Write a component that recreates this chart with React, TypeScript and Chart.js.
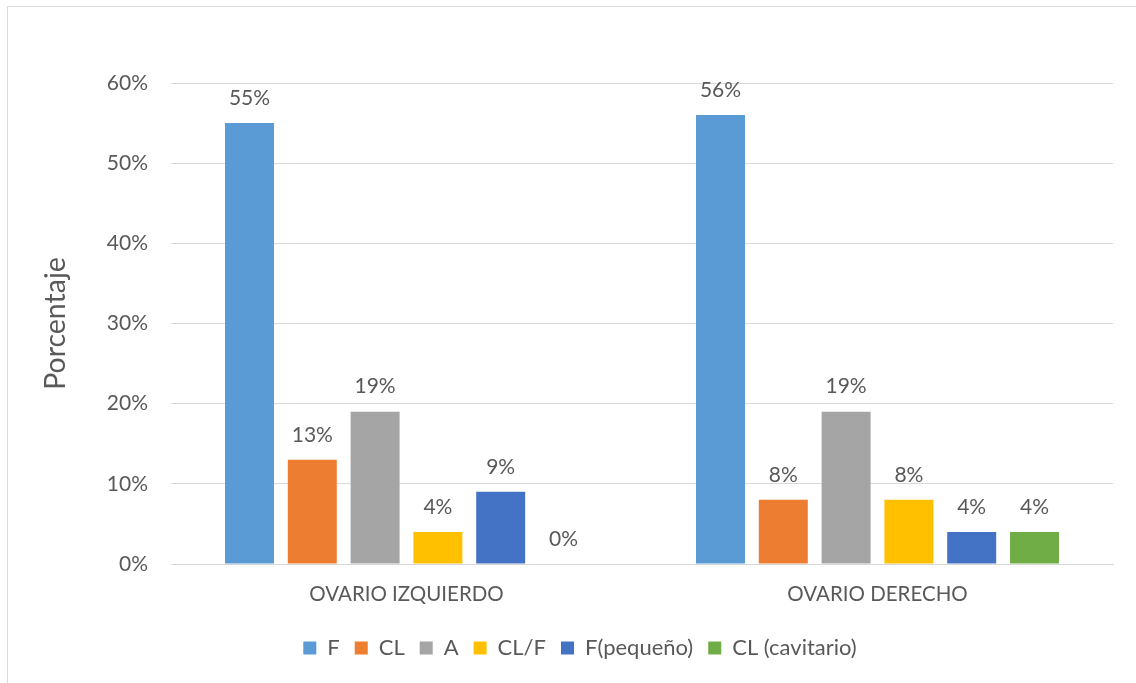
import React, { useEffect, useRef } from "react";
import { Chart, registerables } from "chart.js";

Chart.register(...registerables);

const categories = ["OVARIO IZQUIERDO", "OVARIO DERECHO"];
const seriesNames = ["F", "CL", "A", "CL/F", "F(pequeño)", "CL (cavitario)"];
const seriesF = [55, 56];
const seriesCL = [13, 8];
const seriesA = [19, 19];
const seriesCLF = [4, 8];
const seriesFPequeno = [9, 4];
const seriesCLCavitario = [0, 4];
const seriesColors = ["#5B9BD5", "#ED7D31", "#A5A5A5", "#FFC000", "#4472C4", "#70AD47"];
const yTicks = [0, 10, 20, 30, 40, 50, 60];

const FONT = "Lato, 'Open Sans', sans-serif";
const TEXT = "#595959";
const GRID = "#D9D9D9";

// Writes the percentage above every bar
const valueLabels = {
  id: "valueLabels",
  afterDatasetsDraw(chart: any) {
    const ctx = chart.ctx;
    ctx.save();
    ctx.font = `21px ${FONT}`;
    ctx.fillStyle = TEXT;
    ctx.textAlign = "center";
    ctx.textBaseline = "middle";
    chart.data.datasets.forEach((ds: any, i: number) => {
      const meta = chart.getDatasetMeta(i);
      meta.data.forEach((bar: any, j: number) => {
        ctx.fillText(`${ds.data[j]}%`, bar.x, bar.y - 25);
      });
    });
    ctx.restore();
  },
};

export default function App() {
  const canvasRef = useRef<HTMLCanvasElement | null>(null);

  useEffect(() => {
    const values = [seriesF, seriesCL, seriesA, seriesCLF, seriesFPequeno, seriesCLCavitario];
    const chart = new Chart(canvasRef.current!, {
      type: "bar",
      data: {
        labels: categories,
        datasets: seriesNames.map((name, i) => ({
          label: name,
          data: values[i],
          backgroundColor: seriesColors[i],
          borderWidth: 0,
          categoryPercentage: 0.8,
          barPercentage: 0.78,
        })),
      },
      options: {
        responsive: false,
        animation: false,
        layout: { padding: { left: 47, right: 23, top: 83, bottom: 14 } },
        plugins: {
          tooltip: { enabled: false },
          legend: {
            position: "bottom",
            labels: {
              boxWidth: 13,
              boxHeight: 13,
              padding: 15,
              color: TEXT,
              font: { family: FONT, size: 22 },
            },
          },
        },
        scales: {
          x: {
            grid: { display: false, drawTicks: false },
            border: { display: true, color: GRID, width: 1 },
            ticks: { color: TEXT, font: { family: FONT, size: 20.5 }, padding: 18 },
            afterFit: (scale: any) => {
              scale.height = 58;
            },
          },
          y: {
            min: 0,
            max: 60,
            afterBuildTicks: (scale: any) => {
              scale.ticks = yTicks.map((v) => ({ value: v }));
            },
            grid: { color: GRID, lineWidth: 1, drawTicks: false },
            border: { display: false },
            ticks: {
              color: TEXT,
              font: { family: FONT, size: 21 },
              padding: 23,
              callback: (v: any) => `${v}%`,
            },
            title: {
              display: true,
              text: "Porcentaje",
              color: TEXT,
              font: { family: FONT, size: 28.5, lineHeight: 0.6 },
              padding: { top: 0, bottom: 0 },
            },
            afterFit: (scale: any) => {
              scale.width = 171 - 47;
            },
          },
        },
      },
      plugins: [valueLabels],
    });
    return () => chart.destroy();
  }, []);

  return (
    <div style={{ position: "fixed", left: 0, top: 0, width: 1136, height: 683, background: "#fff", overflow: "hidden" }}>
      <canvas ref={canvasRef} width={1136} height={683} style={{ display: "block" }} />
      <div
        style={{
          position: "absolute",
          left: 7,
          top: 6,
          width: 1140,
          height: 690,
          borderLeft: `1px solid ${GRID}`,
          borderTop: `1px solid ${GRID}`,
          pointerEvents: "none",
        }}
      />
    </div>
  );
}
